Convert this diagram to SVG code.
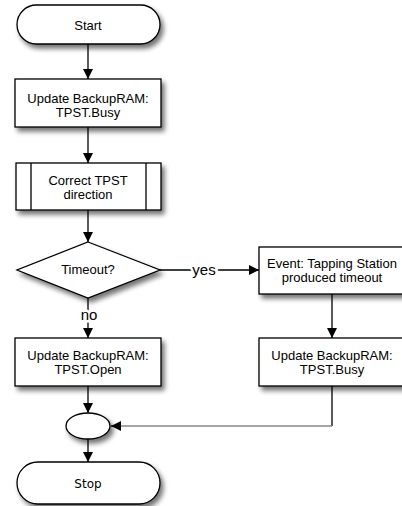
<svg xmlns="http://www.w3.org/2000/svg" width="402" height="506" viewBox="0 0 402 506">
<defs>
<filter id="sh" x="-20%" y="-20%" width="150%" height="160%">
<feGaussianBlur in="SourceAlpha" stdDeviation="2.5"/>
<feOffset dx="3" dy="4" result="b"/>
<feComponentTransfer><feFuncA type="linear" slope="0.55"/></feComponentTransfer>
<feMerge><feMergeNode/><feMergeNode in="SourceGraphic"/></feMerge>
</filter>
<marker id="ah" viewBox="0 0 10 10" refX="10" refY="5" markerWidth="10" markerHeight="10" markerUnits="userSpaceOnUse" orient="auto">
<path d="M0,0 L10,5 L0,10 z" fill="#000"/>
</marker>
</defs>
<style>
.n{fill:#fff;stroke:#000;stroke-width:1.3;filter:url(#sh)}
.t{font-family:"Liberation Sans",Arial,sans-serif;font-size:13px;fill:#000;text-anchor:middle}
.s{font-family:"DejaVu Sans",sans-serif;font-size:12px;fill:#000;text-anchor:middle}
.l{font-family:"Liberation Sans",Arial,sans-serif;font-size:15px;fill:#000;text-anchor:middle;stroke:#fff;stroke-width:5;paint-order:stroke}
.c{fill:none;stroke:#000;stroke-width:1.3}
.g{fill:none;stroke:#888;stroke-width:1.3}
</style>
<g id="connectors">
<path class="c" d="M88,44 V79" marker-end="url(#ah)"/>
<path class="c" d="M88,127 V163" marker-end="url(#ah)"/>
<path class="c" d="M88,210 V242" marker-end="url(#ah)"/>
<path class="c" d="M88,298 V338" marker-end="url(#ah)"/>
<path class="c" d="M160,270 H259" marker-end="url(#ah)"/>
<path class="c" d="M332,294 V338" marker-end="url(#ah)"/>
<path class="c" d="M332,386 V426"/>
<path class="g" d="M332,426 H120"/>
<path class="c" d="M120,426 H111" marker-end="url(#ah)"/>
<path class="c" d="M88,386 V413" marker-end="url(#ah)"/>
<path class="c" d="M88,439 V462" marker-end="url(#ah)"/>
<text class="l" x="89" y="320">no</text>
<text class="l" x="204" y="275">yes</text>
</g>
<g id="start">
<rect class="n" x="17" y="5" width="143" height="39" rx="19.5"/>
<text class="t" x="88" y="29.5">Start</text>
</g>
<g id="update1">
<rect class="n" x="15" y="79" width="146" height="48"/>
<text class="t" x="88" y="103">Update BackupRAM:</text>
<text class="t" x="88" y="117">TPST.Busy</text>
</g>
<g id="correct">
<rect class="n" x="16" y="163" width="145" height="47"/>
<path class="c" d="M31,163 V210 M146,163 V210"/>
<text class="t" x="88" y="184.5">Correct TPST</text>
<text class="t" x="88" y="198.5">direction</text>
</g>
<g id="timeout">
<path class="n" d="M88,242 L160,270 L88,298 L17,270 z"/>
<text class="t" x="88" y="274">Timeout?</text>
</g>
<g id="event">
<rect class="n" x="259" y="247" width="146" height="47"/>
<text class="t" x="332" y="268">Event: Tapping Station</text>
<text class="t" x="332" y="282">produced timeout</text>
</g>
<g id="update3">
<rect class="n" x="259" y="338" width="146" height="48"/>
<text class="t" x="332" y="360">Update BackupRAM:</text>
<text class="t" x="332" y="374">TPST.Busy</text>
</g>
<g id="update2">
<rect class="n" x="15" y="338" width="146" height="48"/>
<text class="t" x="88" y="360">Update BackupRAM:</text>
<text class="t" x="88" y="374">TPST.Open</text>
</g>
<g id="merge">
<ellipse class="n" cx="88" cy="426" rx="22" ry="13"/>
</g>
<g id="stop">
<rect class="n" x="17" y="462" width="143" height="42" rx="21"/>
<text class="s" x="88" y="488">Stop</text>
</g>
</svg>
